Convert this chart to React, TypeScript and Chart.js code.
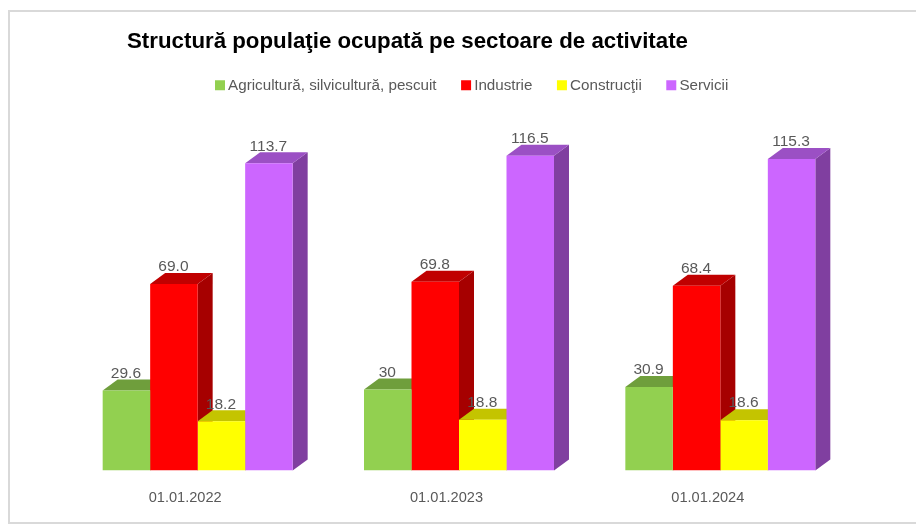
import React, { useEffect, useRef } from "react";
import { Chart, registerables } from "chart.js";

Chart.register(...registerables);

const TITLE = "Structură populaţie ocupată pe sectoare de activitate";
const categories = ["01.01.2022", "01.01.2023", "01.01.2024"];
const agricultura = [29.6, 30, 30.9];
const industrie = [69.0, 69.8, 68.4];
const constructii = [18.2, 18.8, 18.6];
const servicii = [113.7, 116.5, 115.3];
const agriculturaLabels = ["29.6", "30", "30.9"];
const industrieLabels = ["69.0", "69.8", "68.4"];
const constructiiLabels = ["18.2", "18.8", "18.6"];
const serviciiLabels = ["113.7", "116.5", "115.3"];

const FONT = "'Liberation Sans', sans-serif";
const DEPTH_X = 15;
const DEPTH_Y = 11;
const LEGEND_PADDING = 29;

const shades = [
  { top: "#6F9E3C", side: "#6D9C3B" },
  { top: "#C00000", side: "#A60000" },
  { top: "#C4C400", side: "#A8A800" },
  { top: "#9B50C4", side: "#803FA0" },
];
const valueLabels = [agriculturaLabels, industrieLabels, constructiiLabels, serviciiLabels];

const depthPlugin = {
  id: "depth3d",
  beforeDatasetsDraw(chart: any) {
    const { ctx } = chart;
    chart.data.datasets.forEach((_: any, di: number) => {
      chart.getDatasetMeta(di).data.forEach((bar: any) => {
        const half = bar.width / 2;
        const l = bar.x - half;
        const r = bar.x + half;
        const t = bar.y;
        const b = bar.base;
        ctx.fillStyle = shades[di].side;
        ctx.beginPath();
        ctx.moveTo(r, t);
        ctx.lineTo(r + DEPTH_X, t - DEPTH_Y);
        ctx.lineTo(r + DEPTH_X, b - DEPTH_Y);
        ctx.lineTo(r, b);
        ctx.closePath();
        ctx.fill();
        ctx.fillStyle = shades[di].top;
        ctx.beginPath();
        ctx.moveTo(l, t);
        ctx.lineTo(l + DEPTH_X, t - DEPTH_Y);
        ctx.lineTo(r + DEPTH_X, t - DEPTH_Y);
        ctx.lineTo(r, t);
        ctx.closePath();
        ctx.fill();
      });
    });
  },
  afterDatasetsDraw(chart: any) {
    const { ctx } = chart;
    ctx.save();
    ctx.fillStyle = "#595959";
    ctx.font = `15.5px ${FONT}`;
    ctx.textAlign = "center";
    ctx.textBaseline = "middle";
    chart.data.datasets.forEach((_: any, di: number) => {
      chart.getDatasetMeta(di).data.forEach((bar: any, i: number) => {
        ctx.fillText(valueLabels[di][i], bar.x - 0.5, bar.y - 17);
      });
    });
    ctx.restore();
  },
};

const placePlugin = {
  id: "placeBlocks",
  afterLayout(chart: any) {
    chart.titleBlock.left = 127;
    chart.titleBlock.right = 688;
    const legend = chart.legend;
    const shift = 219.5 - legend.left - (legend.width - legend.lineWidths[0]) / 2 - LEGEND_PADDING / 2;
    legend.left += shift;
    legend.right += shift;
  },
};

export default function App() {
  const ref = useRef<HTMLCanvasElement>(null);
  useEffect(() => {
    const chart = new Chart(ref.current!, {
      type: "bar",
      data: {
        labels: categories,
        datasets: [
          { label: "Agricultură, silvicultură, pescuit", data: agricultura, backgroundColor: "#92D050" },
          { label: "Industrie", data: industrie, backgroundColor: "#FF0000" },
          { label: "Construcţii", data: constructii, backgroundColor: "#FFFF00" },
          { label: "Servicii", data: servicii, backgroundColor: "#CC66FF" },
        ],
      },
      options: {
        responsive: false,
        animation: false,
        layout: { padding: { left: 67, right: 65, top: 28, bottom: 6 } },
        datasets: { bar: { categoryPercentage: 0.727, barPercentage: 1 } },
        plugins: {
          tooltip: { enabled: false },
          title: {
            display: true,
            text: TITLE,
            color: "#000000",
            font: { family: FONT, size: 22.3, weight: "bold" },
            padding: { top: 0, bottom: -6 },
          },
          legend: {
            position: "top",
            labels: {
              boxWidth: 1,
              boxHeight: 10,
              usePointStyle: true,
              pointStyle: "rect",
              color: "#595959",
              font: { family: FONT, size: 15.2 },
              padding: LEGEND_PADDING,
            },
          },
        },
        scales: {
          x: {
            grid: { display: false },
            border: { display: false },
            ticks: { color: "#595959", font: { family: FONT, size: 14.6 }, padding: 11, labelOffset: -12.5 },
          },
          y: { display: false, min: 0, max: 136 },
        },
      },
      plugins: [depthPlugin, placePlugin],
    } as any);
    return () => chart.destroy();
  }, []);
  return (
    <div style={{ position: "fixed", left: 0, top: 0, width: 916, height: 524, background: "#fff" }}>
      <div style={{ position: "absolute", left: 8, top: 10, right: 0, bottom: 0, borderTop: "2px solid #D9D9D9", borderLeft: "2px solid #D9D9D9", borderBottom: "2px solid #D9D9D9", boxSizing: "border-box" }} />
      <canvas ref={ref} width={916} height={524} style={{ position: "absolute", left: 0, top: 0, display: "block" }} />
    </div>
  );
}
